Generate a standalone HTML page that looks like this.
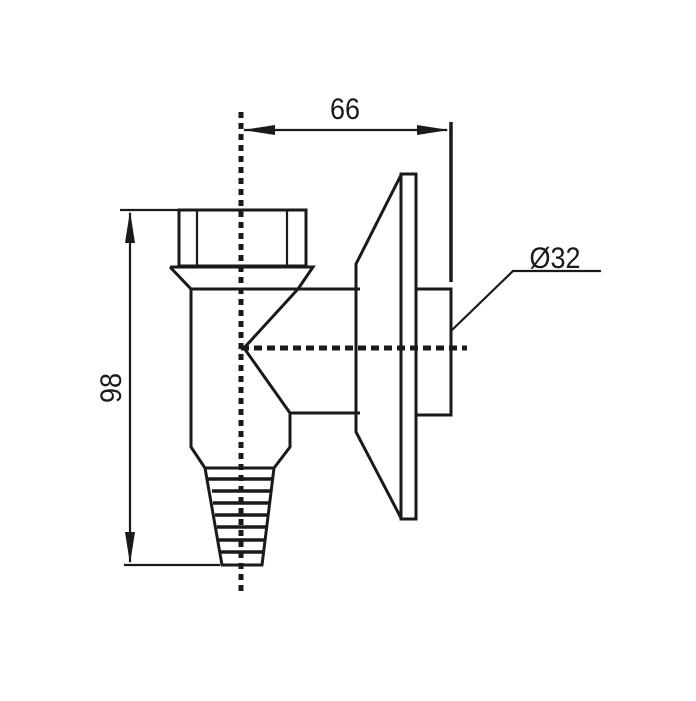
<!DOCTYPE html>
<html><head><style>html,body{margin:0;padding:0;background:#fff}</style></head><body>
<svg width="696" height="696" viewBox="0 0 696 696" xmlns="http://www.w3.org/2000/svg">
<rect width="696" height="696" fill="#fff"/>
<g fill="none" stroke="#1a1a1a" stroke-width="3" stroke-linejoin="miter">
<rect x="179" y="210" width="127" height="56"/>
<line x1="197" y1="210" x2="197" y2="266" stroke-width="2.2"/>
<line x1="287" y1="210" x2="287" y2="266" stroke-width="2.2"/>
<polyline points="170,267 313,267 298,289"/>
<polyline points="170,267 191,289 360,289"/>
<polyline points="191,289 191,447 205,468"/>
<polyline points="298,289 244,348 290,413 290,447 274,468"/>
<line x1="290" y1="413" x2="360" y2="413"/>
<polyline points="205,468 222,565 262,565 274,468 205,468"/>
<g stroke-width="3.5">
<line x1="208" y1="479" x2="272" y2="479"/>
<line x1="212" y1="491" x2="270" y2="491"/>
<line x1="213" y1="503" x2="269" y2="503"/>
<line x1="215" y1="515" x2="267" y2="515"/>
<line x1="217" y1="527" x2="266" y2="527"/>
<line x1="218" y1="540" x2="264" y2="540"/>
<line x1="220" y1="552" x2="263" y2="552"/>
</g>
<rect x="401" y="174" width="15" height="345"/>
<polyline points="401,175 356,264 356,432 401,518"/>
<rect x="416" y="289" width="35" height="126"/>
<line x1="451" y1="122" x2="451" y2="282" stroke-width="3.5"/>
<line x1="244" y1="130" x2="447" y2="130" stroke-width="2.2"/>
<line x1="120" y1="210" x2="178" y2="210" stroke-width="2.2"/>
<line x1="124" y1="565" x2="220" y2="565" stroke-width="2.2"/>
<line x1="130" y1="213" x2="130" y2="562" stroke-width="2.2"/>
<polyline points="452,330 513,271 601,271" stroke-width="2.2"/>
</g>
<g fill="#1a1a1a">
<polygon points="243,130 275,125 275,135"/>
<polygon points="449,130 417,125 417,135"/>
<polygon points="130,211 125,243 135,243"/>
<polygon points="130,564 125,532 135,532"/>
</g>
<line x1="241" y1="112" x2="241" y2="593" stroke="#1a1a1a" stroke-width="5" stroke-dasharray="6,5"/>
<line x1="241" y1="348" x2="467" y2="348" stroke="#1a1a1a" stroke-width="5" stroke-dasharray="8,5"/>
<g font-family="Liberation Sans, sans-serif" font-size="30" fill="#1a1a1a">
<text x="345" y="119" text-anchor="middle" transform="translate(345,0) scale(0.9,1) translate(-345,0)">66</text>
<text x="555" y="268" text-anchor="middle" transform="translate(555,0) scale(0.9,1) translate(-555,0)">Ø32</text>
<text transform="translate(121,388) rotate(-90) scale(0.9,1)" text-anchor="middle">98</text>
</g>
</svg>
</body></html>
